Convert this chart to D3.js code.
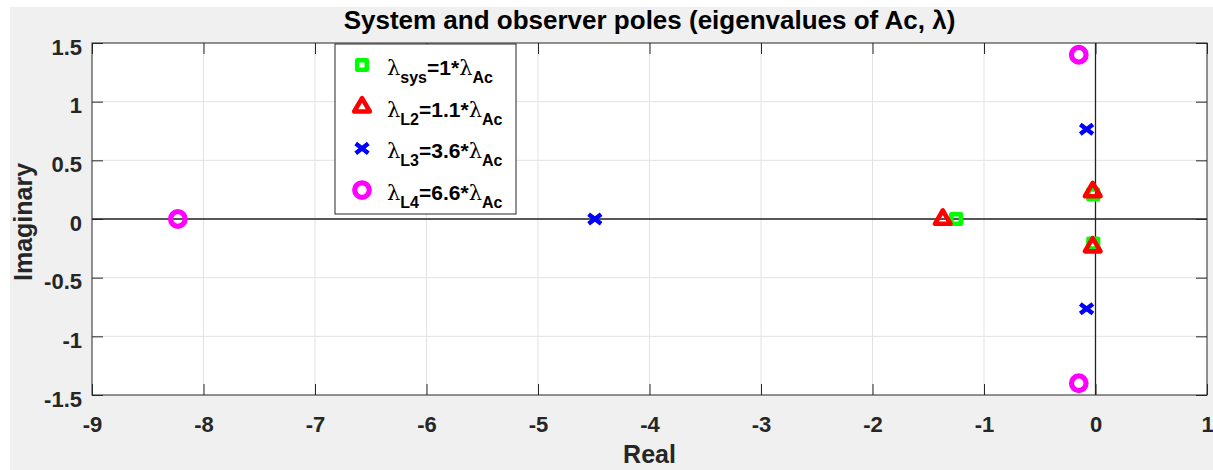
<!DOCTYPE html>
<html>
<head>
<meta charset="utf-8">
<script src="https://cdn.jsdelivr.net/npm/d3@7"></script>
<style>
  html, body { margin: 0; padding: 0; background: #ffffff; }
  svg { display: block; }
  text { font-family: Arial, "Liberation Sans", Helvetica, sans-serif; }
</style>
</head>
<body>
<svg id="chart" width="1213" height="470"></svg>
<script>
// ---------- data ----------
const seriesNames = ["sys", "L2", "L3", "L4"];
const seriesFactors = ["1", "1.1", "3.6", "6.6"];
const seriesColors = ["#00ff00", "#ff0000", "#0000ff", "#ff00ff"];
const seriesMarkers = ["square", "triangle", "cross", "circle"];

const sysReal = [-1.25, -0.02, -0.02];
const sysImag = [0, 0.21, -0.21];
const l2Real = [-1.37, -0.025, -0.025];
const l2Imag = [0, 0.235, -0.235];
const l3Real = [-4.49, -0.08, -0.08];
const l3Imag = [0, 0.765, -0.765];
const l4Real = [-8.23, -0.15, -0.15];
const l4Imag = [0, 1.4, -1.4];

const realValues = [sysReal, l2Real, l3Real, l4Real];
const imagValues = [sysImag, l2Imag, l3Imag, l4Imag];

const xTicks = [-9, -8, -7, -6, -5, -4, -3, -2, -1, 0, 1];
const xTickLabels = ["-9", "-8", "-7", "-6", "-5", "-4", "-3", "-2", "-1", "0", "1"];
const yTicks = [-1.5, -1, -0.5, 0, 0.5, 1, 1.5];
const yTickLabels = ["-1.5", "-1", "-0.5", "0", "0.5", "1", "1.5"];

const titleText = "System and observer poles (eigenvalues of Ac, \u03BB)";
const xLabel = "Real";
const yLabel = "Imaginary";

// ---------- layout ----------
const svg = d3.select("#chart");
const L = 92, R = 1207, T = 43, B = 395;
const x = d3.scaleLinear().domain([-9, 1]).range([L, R]);
const y = d3.scaleLinear().domain([-1.5, 1.5]).range([B, T]);
const ink = "#262626";

// figure background
svg.append("rect").attr("x", 10).attr("y", 7).attr("width", 1203).attr("height", 463).attr("fill", "#f0f0f0");
// axes background
svg.append("rect").attr("x", L).attr("y", T).attr("width", R - L).attr("height", B - T).attr("fill", "#ffffff");

// grid
const grid = svg.append("g");
grid.selectAll(".gx").data(xTicks.slice(1, -1)).enter().append("line")
  .attr("x1", d => x(d)).attr("x2", d => x(d)).attr("y1", T).attr("y2", B)
  .attr("stroke", "#e3e3e3").attr("stroke-width", 1);
grid.selectAll(".gy").data(yTicks.slice(1, -1)).enter().append("line")
  .attr("y1", d => y(d)).attr("y2", d => y(d)).attr("x1", L).attr("x2", R)
  .attr("stroke", "#e3e3e3").attr("stroke-width", 1);

// zero lines
svg.append("line").attr("x1", L).attr("x2", R).attr("y1", y(0)).attr("y2", y(0))
  .attr("stroke", "#222").attr("stroke-width", 1.3);
svg.append("line").attr("x1", x(0)).attr("x2", x(0)).attr("y1", T).attr("y2", B)
  .attr("stroke", "#222").attr("stroke-width", 1.3);

// axes with inward ticks on all sides
const tickLen = 11;
const xAxisB = d3.axisBottom(x).tickValues(xTicks).tickSize(-tickLen).tickFormat((d, i) => xTickLabels[i]);
const xAxisT = d3.axisTop(x).tickValues(xTicks).tickSize(-tickLen).tickFormat("");
const yAxisL = d3.axisLeft(y).tickValues(yTicks).tickSize(-tickLen).tickFormat((d, i) => yTickLabels[i]);
const yAxisR = d3.axisRight(y).tickValues(yTicks).tickSize(-tickLen).tickFormat("");

function styleAxis(g) {
  g.select(".domain").remove();
  g.selectAll(".tick line").attr("stroke", ink).attr("stroke-width", 1);
  g.selectAll(".tick text").attr("fill", ink).style("font-size", "22px").style("font-weight", "bold")
    .style("font-family", "Arial, 'Liberation Sans', sans-serif");
}
svg.append("g").attr("transform", `translate(0,${B})`).call(xAxisB).call(styleAxis)
  .selectAll(".tick text").attr("dy", null).attr("y", 37);
svg.append("g").attr("transform", `translate(0,${T})`).call(xAxisT).call(styleAxis);
svg.append("g").attr("transform", `translate(${L},0)`).call(yAxisL).call(styleAxis)
  .selectAll(".tick text").attr("dy", null).attr("x", -10).attr("y", 11);
svg.append("g").attr("transform", `translate(${R},0)`).call(yAxisR).call(styleAxis);

// box
svg.append("rect").attr("x", L).attr("y", T).attr("width", R - L).attr("height", B - T)
  .attr("fill", "none").attr("stroke", ink).attr("stroke-width", 1);

// markers
function drawMarker(g, type, color) {
  if (type === "square") {
    g.append("rect").attr("x", -4.8).attr("y", -4.8).attr("width", 9.6).attr("height", 9.6)
      .attr("fill", "none").attr("stroke", color).attr("stroke-width", 4.6).attr("stroke-linejoin", "round");
  } else if (type === "triangle") {
    g.append("path").attr("d", "M0,-8.5L-7.8,4.8L7.8,4.8Z")
      .attr("fill", "none").attr("stroke", color).attr("stroke-width", 4.6).attr("stroke-linejoin", "round");
  } else if (type === "cross") {
    g.append("path").attr("d", "M-6.3,-4.8L6.3,4.8M-6.3,4.8L6.3,-4.8")
      .attr("fill", "none").attr("stroke", color).attr("stroke-width", 4.4);
  } else {
    g.append("circle").attr("r", 7.3)
      .attr("fill", "none").attr("stroke", color).attr("stroke-width", 5.2);
  }
}

seriesNames.forEach((name, si) => {
  const pts = realValues[si].map((re, i) => ({ re: re, im: imagValues[si][i] }));
  const gs = svg.append("g");
  pts.forEach(p => {
    const g = gs.append("g").attr("transform", `translate(${x(p.re)},${y(p.im)})`);
    drawMarker(g, seriesMarkers[si], seriesColors[si]);
  });
});

// legend
const lg = svg.append("g");
lg.append("rect").attr("x", 335).attr("y", 44).attr("width", 181).attr("height", 170)
  .attr("fill", "#ffffff").attr("stroke", ink).attr("stroke-width", 1);
seriesNames.forEach((name, i) => {
  const cy = 65 + i * 41.7;
  const g = lg.append("g").attr("transform", `translate(362,${cy})`);
  drawMarker(g, seriesMarkers[i], seriesColors[i]);
  const t = lg.append("text").attr("x", 387).attr("y", cy + 10).attr("fill", "#000")
    .style("font-size", "21px").style("font-weight", "bold");
  t.append("tspan").text("\u03BB").style("font-family", "'DejaVu Serif', 'Liberation Serif', serif").style("font-weight", "normal");
  t.append("tspan").text(name).attr("dy", 8).style("font-size", "16px");
  t.append("tspan").text("=" + seriesFactors[i] + "*").attr("dy", -8);
  t.append("tspan").text("\u03BB").style("font-family", "'DejaVu Serif', 'Liberation Serif', serif").style("font-weight", "normal");
  t.append("tspan").text("Ac").attr("dy", 8).style("font-size", "16px");
});

// title & labels
svg.append("text").attr("x", (L + R) / 2).attr("y", 29).attr("text-anchor", "middle")
  .attr("fill", "#000").style("font-size", "26px").style("font-weight", "bold").text(titleText);
svg.append("text").attr("x", (L + R) / 2).attr("y", 463).attr("text-anchor", "middle")
  .attr("fill", ink).style("font-size", "25px").style("font-weight", "bold").text(xLabel);
svg.append("text").attr("transform", `translate(32,${(T + B) / 2 + 3}) rotate(-90)`).attr("text-anchor", "middle")
  .attr("fill", ink).style("font-size", "25px").style("font-weight", "bold").text(yLabel);
</script>
</body>
</html>
